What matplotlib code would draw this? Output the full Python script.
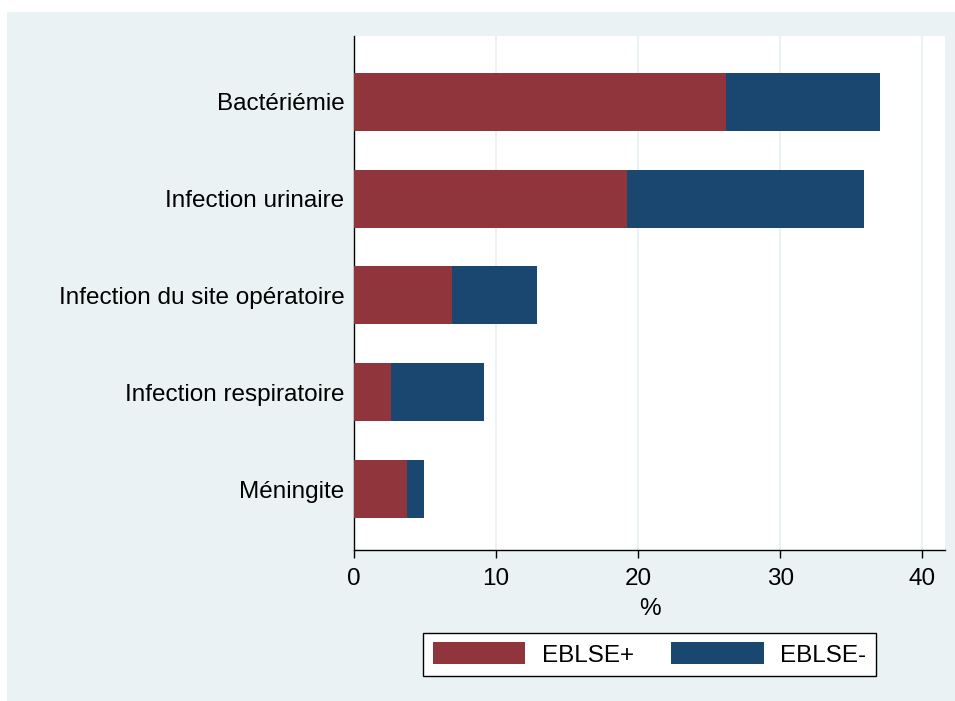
import matplotlib
matplotlib.use("Agg")
import matplotlib.pyplot as plt
from matplotlib.patches import Rectangle, Patch
import numpy as np

plt.rcParams['font.family'] = ['Liberation Sans', 'DejaVu Sans']

# data
categories = ["Bactériémie", "Infection urinaire", "Infection du site opératoire",
              "Infection respiratoire", "Méningite"]
eblse_pos = [26.2, 19.2, 6.9, 2.6, 3.7]
eblse_neg = [10.8, 16.7, 6.0, 6.55, 1.2]
series_names = ["EBLSE+", "EBLSE-"]

red = "#90353B"
blue = "#1A476F"
bg = "#EAF2F3"
fs = 17.5

fig = plt.figure(figsize=(9.55, 7.01), dpi=100)
fig.patch.set_facecolor("white")
fig.patches.append(Rectangle((7 / 955, 0), 1, 1 - 12 / 701, transform=fig.transFigure,
                             facecolor=bg, edgecolor="none", zorder=-10))

ax = fig.add_axes([354 / 955, 151 / 701, 591 / 955, 514 / 701])
ax.set_facecolor("white")

y = np.arange(len(categories))
ax.barh(y, eblse_pos, height=0.6, color=red, zorder=3)
ax.barh(y, eblse_neg, left=eblse_pos, height=0.6, color=blue, zorder=3)

ax.set_yticks(y)
ax.set_yticklabels(categories, fontsize=fs)
ax.set_ylim(4.63, -0.68)
ax.tick_params(axis="y", length=0, pad=7)

ax.set_xlim(0, 41.6)
ax.set_xticks([0, 10, 20, 30, 40])
ax.tick_params(axis="x", length=6, width=1, labelsize=fs, pad=7)
ax.set_xlabel("%", fontsize=fs, labelpad=6)
ax.grid(axis="x", color=bg, linewidth=1.5, zorder=0)

for s in ["top", "right"]:
    ax.spines[s].set_visible(False)
ax.spines["left"].set_linewidth(1)
ax.spines["bottom"].set_linewidth(1)

handles = [Patch(facecolor=red, edgecolor="none"), Patch(facecolor=blue, edgecolor="none")]
leg = fig.legend(handles, series_names, loc="center", ncol=2,
                 bbox_to_anchor=(649.5 / 955, 1 - 654.5 / 701),
                 fontsize=fs, handlelength=3.8, handleheight=1.0,
                 columnspacing=1.55, handletextpad=0.66, borderpad=0.4,
                 borderaxespad=0, fancybox=False, framealpha=1, edgecolor="black")
leg.get_frame().set_linewidth(1)

fig.savefig("out.png", dpi=100, facecolor=fig.get_facecolor())
